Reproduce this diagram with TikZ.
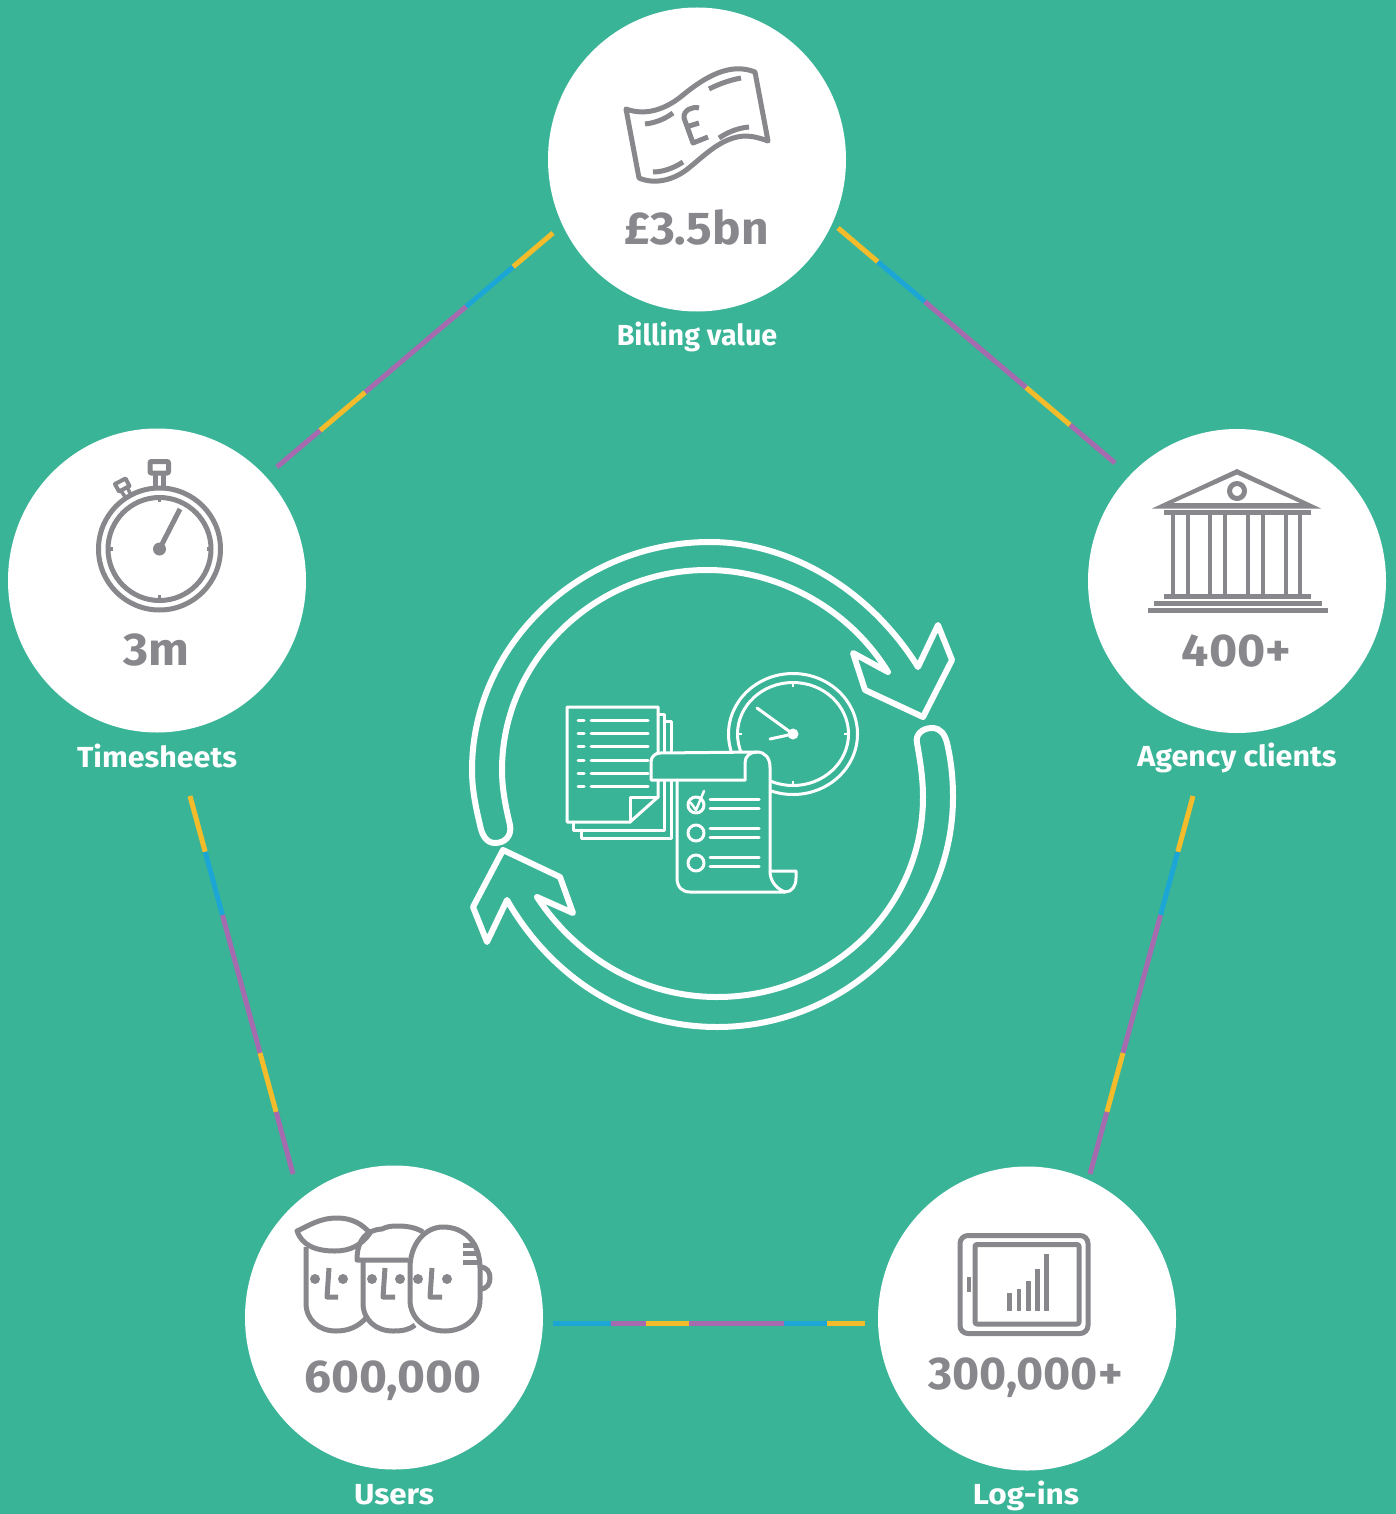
\documentclass[tikz,border=0pt]{standalone}
\usepackage{fontspec}
\setmainfont{Fira Sans}
\usetikzlibrary{calc,shapes.geometric}
\definecolor{bggreen}{HTML}{3AB497}
\definecolor{icongrey}{HTML}{88888C}
\definecolor{segyellow}{HTML}{F4BC2A}
\definecolor{segblue}{HTML}{1CA6D6}
\definecolor{segpurple}{HTML}{A56BAE}
\tikzset{
  bubble/.style={ellipse,fill=white,minimum width=298pt,minimum height=304pt,inner sep=0pt},
  valuetext/.style={text=icongrey,font=\fontsize{46}{50}\selectfont\bfseries,inner sep=0pt,anchor=center},
  labeltext/.style={text=white,font=\fontsize{29}{32}\selectfont\bfseries,inner sep=0pt,anchor=center},
  seg/.style={line width=5pt},
  wline/.style={draw=white,line width=6pt,line join=round,line cap=round},
  wthin/.style={draw=white,line width=3pt,line join=round,line cap=round},
  gline/.style={draw=icongrey,line width=5pt,line join=round},
}
\newcommand{\connector}[3]{%
  \foreach \fa/\fb/\cc in {#3}{
    \draw[seg,draw=\cc] ($(#1)!\fa!(#2)$) -- ($(#1)!\fb!(#2)$);
  }%
}
\begin{document}
\begin{tikzpicture}[x=1pt,y=-1pt]
\useasboundingbox (0,0) rectangle (1396,1514);
\fill[bggreen] (0,0) rectangle (1396,1514);
% circles
\node[bubble] (ntop) at (697,159.5) {};
\node[bubble] (nleft) at (157,580.5) {};
\node[bubble] (nright) at (1237,581) {};
\node[bubble] (nbl) at (394,1317.5) {};
\node[bubble] (nbr) at (1027,1318.5) {};
% connector ends
\coordinate (tr1) at (838,228); \coordinate (tr2) at (1115,463);
\coordinate (tl1) at (553,233); \coordinate (tl2) at (277,467);
\coordinate (lb1) at (190,796); \coordinate (lb2) at (293,1174);
\coordinate (rb1) at (1193,796); \coordinate (rb2) at (1090,1174);
\coordinate (bb1) at (553,1323); \coordinate (bb2) at (865,1323);
\connector{tr1}{tr2}{0/.144/segyellow,.144/.314/segblue,.314/.679/segpurple,.679/.838/segyellow,.838/1/segpurple}
\connector{tl1}{tl2}{0/.145/segyellow,.145/.315/segblue,.315/.681/segpurple,.681/.844/segyellow,.844/1/segpurple}
\connector{lb1}{lb2}{0/.148/segyellow,.148/.315/segblue,.315/.68/segpurple,.68/.836/segyellow,.836/1/segpurple}
\connector{rb1}{rb2}{0/.148/segyellow,.148/.315/segblue,.315/.68/segpurple,.68/.836/segyellow,.836/1/segpurple}
\connector{bb1}{bb2}{0/.186/segblue,.186/.298/segpurple,.298/.436/segyellow,.436/.74/segpurple,.74/.878/segblue,.878/1/segyellow}
% texts
\node[valuetext] (v1) at (696.5,227) {\scalebox{1.04}[1]{£3.5bn}};
\node[valuetext] (v2) at (156.5,650) {\scalebox{1.05}[1]{3m}};
\node[valuetext] (v3) at (1236.5,651) {\scalebox{1.05}[1]{400+}};
\node[valuetext] (v4) at (393,1381) {\scalebox{1.04}[1]{600,000}};
\node[valuetext] (v5) at (1025.5,1378) {\scalebox{1.01}[1]{300,000+}};
\node[labeltext] (l1) at (697,337) {\scalebox{.99}[1]{Billing value}};
\node[labeltext] (l2) at (157,756) {\scalebox{1.05}[1]{Timesheets}};
\node[labeltext] (l3) at (1237,758) {\scalebox{1.05}[1]{Agency clients}};
\node[labeltext] (l4) at (394,1495) {\scalebox{1.08}[1]{Users}};
\node[labeltext] (l5) at (1026,1496) {\scalebox{1.09}[1]{Log-ins}};
% big arrows
\draw[wline] (495,843) .. controls (487,843) and (482,836) .. (480,825)
  .. controls (476,808) and (472,790) .. (472,770)
  .. controls (472,645) and (580,542) .. (710,542)
  .. controls (790,542) and (870,590) .. (918,667)
  -- (938,625) -- (952,660) -- (923,717) -- (865,690) -- (853,653) -- (888,672)
  .. controls (850,610) and (780,570) .. (707,570)
  .. controls (595,570) and (502,660) .. (502,770)
  .. controls (502,790) and (506,808) .. (510,825)
  .. controls (512,836) and (505,843) .. (495,843) -- cycle;
\draw[wline] (932,728) .. controls (941,728) and (945,735) .. (947,743)
  .. controls (951,760) and (953,778) .. (953,797)
  .. controls (953,925) and (845,1027) .. (717,1027)
  .. controls (625,1027) and (550,975) .. (507,900)
  -- (487,942) -- (473,907) -- (503,850) -- (560,877) -- (573,913) -- (537,897)
  .. controls (575,955) and (640,997) .. (717,997)
  .. controls (830,997) and (923,910) .. (923,797)
  .. controls (923,778) and (920,760) .. (917,743)
  .. controls (915,735) and (922,728) .. (932,728) -- cycle;
% centre clock
\coordinate (cc) at (793,734);
\draw[wthin] (cc) ellipse [x radius=64.5, y radius=60.5];
\draw[wthin] (cc) ellipse [x radius=55.5, y radius=51.5];
\fill[white] (cc) circle (5.5);
\draw[wthin] (cc) -- (757,708);
\draw[wthin] (cc) -- (770,739);
\foreach \dx/\dy/\ex/\ey in {0/-51/0/-47,0/51/0/47,-55/0/-51/0,55/0/51/0}
  \draw[draw=white,line width=2.5pt] ($(cc)+(\dx,\dy)$) -- ($(cc)+(\ex,\ey)$);
% paper stack
\draw[wthin] (581,830) -- (581,838) -- (671,838) -- (671,721) -- (664,721);
\draw[wthin] (573,822) -- (573,830) -- (664,830) -- (664,714) -- (658,714);
\draw[wthin] (567,707) -- (658,707) -- (658,797) -- (630,822) -- (567,822) -- cycle;
\draw[wthin] (630,822) -- (630,797) -- (658,797);
\foreach \yy in {720,733.3,746.7,760,773.3,786.7}{
  \draw[wthin] (578,\yy) -- (584,\yy);
  \draw[wthin] (591,\yy) -- (648,\yy);
}
% scroll
\path[fill=bggreen] (677,775) -- (677,878) .. controls (677,887) and (682,892) .. (690,892) -- (785,892) -- (770,871) -- (770,767) .. controls (770,757) and (765,752) .. (757,752) -- (660,753) .. controls (655,753) and (651,757) .. (651,762) -- (651,780) -- (677,780) -- cycle;
\draw[wthin] (677,780) -- (677,878) .. controls (677,887) and (682,892) .. (690,892) -- (785,892)
  .. controls (792,892) and (796,886) .. (796,878) -- (796,871) -- (770,871);
\draw[wthin] (770,767) -- (770,871) .. controls (770,880) and (775,888) .. (785,892);
\draw[wthin] (745,780) -- (651,780) -- (651,762) .. controls (651,757) and (655,753) .. (660,753) -- (757,752)
  .. controls (765,752) and (770,758) .. (770,767);
\draw[wthin] (745,780) -- (745,763) .. controls (745,756) and (750,752) .. (757,752);
\foreach \yc in {805,833,863} \draw[wthin] (696,\yc) circle (8);
\draw[draw=white,line width=2.5pt,line join=round,line cap=round] (691,803) -- (696,810) -- (704,791);
\foreach \yy in {799,808,828,837,857,866} \draw[wthin] (710,\yy) -- (759,\yy);
% banknote
\draw[gline] (626,109) .. controls (645,116) and (665,110) .. (683,95)
  .. controls (705,77) and (730,62) .. (755,72) -- (768,141)
  .. controls (760,138) and (752,136) .. (745,136)
  .. controls (722,137) and (705,155) .. (690,167)
  .. controls (675,180) and (655,185) .. (639,178) -- cycle;
\draw[gline] (645,124) .. controls (655,123) and (665,119) .. (673,113);
\draw[gline] (653,172) .. controls (663,172) and (674,168) .. (683,162);
\draw[gline] (709,89) .. controls (719,84) and (730,80) .. (741,78);
\draw[gline] (719,138) .. controls (728,132) and (738,128) .. (749,127);
\draw[gline] (699,108) .. controls (693,106) and (683,110) .. (684,118) -- (693,143) -- (708,137);
\draw[gline] (686,127) -- (699,123);
% stopwatch
\coordinate (sw) at (159.5,549);
\draw[gline] (sw) circle (61);
\draw[gline] (sw) circle (51.5);
\fill[icongrey] (sw) circle (6.5);
\draw[gline] (sw) -- (180,509);
\foreach \dx/\dy/\ex/\ey in {0/-52/0/-47,0/52/0/46,-52/0/-47/0,52/0/47/0}
  \draw[draw=icongrey,line width=3.5pt] ($(sw)+(\dx,\dy)$) -- ($(sw)+(\ex,\ey)$);
\draw[gline,rounded corners=1pt] (150,461.5) rectangle (168.5,473);
\draw[gline] (155,473) -- (155,486);
\draw[gline] (163,473) -- (163,486);
\draw[draw=icongrey,line width=4pt,line join=round] (115,484) -- (125.5,478.5) -- (129.5,486) -- (119,491.5) -- cycle;
\draw[draw=icongrey,line width=3.5pt] (121,491) -- (126,498);
\draw[draw=icongrey,line width=3.5pt] (127,487) -- (131,495);
% bank
\fill[icongrey,even odd rule] (1237,469) -- (1321,508.5) -- (1152,508.5) -- cycle
   (1237,474.5) -- (1300,503) -- (1173,503) -- cycle;
\draw[gline] (1237,491) circle (7.5);
\fill[icongrey] (1164,510) rectangle (1311,515);
\foreach \xc in {1173,1188,1210,1225,1248,1263,1286,1300}
  \fill[icongrey] (\xc-2.4,515) rectangle (\xc+2.4,595);
\fill[icongrey] (1164,594) rectangle (1311,599);
\fill[icongrey] (1154,601) rectangle (1322,606);
\fill[icongrey] (1148,608) rectangle (1328,613);
% tablet
\draw[gline,rounded corners=8pt] (960,1235.5) rectangle (1088,1333.5);
\draw[gline,rounded corners=2pt] (975,1244.5) rectangle (1079,1324);
\fill[icongrey] (966.5,1277) rectangle (971,1292);
\foreach \xa/\xb/\yt in {1007/1012/1293,1016.5/1021/1289,1026/1031/1281,1035/1040/1269,1044/1049/1254}
  \fill[icongrey] (\xa,\yt) rectangle (\xb,1311);
% faces
\draw[gline] (297,1231) .. controls (310,1225) and (320,1218) .. (337,1218)
  .. controls (352,1218) and (362,1224) .. (370,1233)
  .. controls (362,1245) and (350,1251) .. (335,1251)
  .. controls (315,1251) and (302,1245) .. (297,1231) -- cycle;
\draw[gline] (306,1247) -- (306,1303) .. controls (306,1320) and (319,1331) .. (336,1331)
  .. controls (348,1331) and (358,1327) .. (366,1318);
\draw[gline] (423,1232) .. controls (415,1227) and (406,1226) .. (397,1226)
  .. controls (390,1226) and (386,1227) .. (382,1229)
  .. controls (366,1230) and (357,1240) .. (357,1260) -- (408,1260);
\draw[gline] (363,1260) -- (363,1303) .. controls (363,1320) and (376,1331) .. (393,1331)
  .. controls (402,1331) and (409,1330) .. (415,1325);
\draw[gline] (410,1268) .. controls (410,1244) and (425,1227) .. (443,1227)
  .. controls (465,1227) and (480,1243) .. (480,1268) -- (480,1300)
  .. controls (480,1318) and (464,1331) .. (445,1331)
  .. controls (425,1331) and (410,1318) .. (410,1300) -- cycle;
\draw[gline] (480,1267) .. controls (487,1267) and (490,1272) .. (490,1278)
  .. controls (490,1284) and (487,1289) .. (480,1289);
\draw[gline] (463,1245) -- (477,1245);
\draw[gline] (463,1253) -- (480,1253);
\draw[gline] (463,1262) -- (481,1262);
\foreach \xe in {315,343,372,400,418,447} \fill[icongrey] (\xe,1279) circle (5);
\draw[gline] (329,1268) -- (327,1297) -- (338,1297);
\draw[gline] (385,1268) -- (383,1297) -- (395,1297);
\draw[gline] (432,1268) -- (430,1297) -- (442,1297);
\end{tikzpicture}
\end{document}
